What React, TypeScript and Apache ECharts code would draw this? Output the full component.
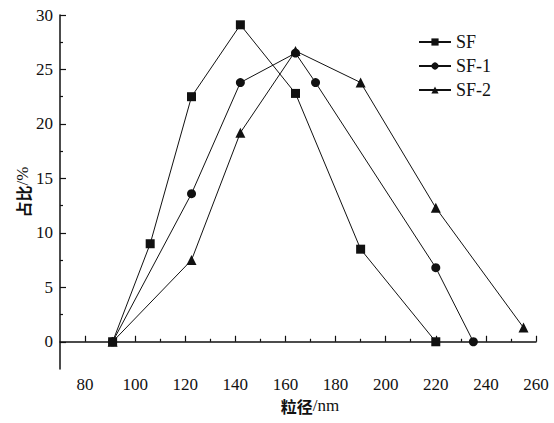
import React, { useEffect, useRef } from "react";
import * as echarts from "echarts";

const sfData: [number, number][] = [
  [91, 0], [106, 9.0], [122.5, 22.5], [142, 29.1], [164, 22.8], [190, 8.5], [220, 0],
];
const sf1Data: [number, number][] = [
  [91, 0], [122.5, 13.6], [142, 23.8], [164, 26.5], [172, 23.8], [220, 6.8], [235, 0],
];
const sf2Data: [number, number][] = [
  [91, 0], [122.5, 7.5], [142, 19.2], [164, 26.7], [190, 23.8], [220, 12.3], [255, 1.3],
];
const xMajor = [80, 100, 120, 140, 160, 180, 200, 220, 240, 260];
const xMinor = [90, 110, 130, 150, 170, 190, 210, 230, 250];
const yMajor = [0, 5, 10, 15, 20, 25, 30];
const yMinor = [2.5, 7.5, 12.5, 17.5, 22.5, 27.5];

const SERIF = "\"Liberation Serif\", \"Times New Roman\", serif";
const CJK = "\"Noto Sans CJK SC\", sans-serif";

export default function App() {
  const ref = useRef<HTMLDivElement>(null);
  useEffect(() => {
    if (!ref.current) return;
    const chart = echarts.init(ref.current, null, { renderer: "svg" });
    const lineStyle = { color: "#111", width: 1 };
    const mkSeries = (name: string, data: [number, number][], symbol: string, size: number) => ({
      name,
      type: "line",
      data,
      symbol,
      symbolSize: size,
      itemStyle: { color: "#111" },
      lineStyle,
      xAxisIndex: 0,
      yAxisIndex: 0,
    });
    const nameRich = {
      c: { fontFamily: CJK, fontSize: 16, fontWeight: "bold", color: "#111" },
      s: { fontFamily: SERIF, fontSize: 17, color: "#111" },
    };
    chart.setOption({
      animation: false,
      backgroundColor: "#fff",
      textStyle: { fontFamily: SERIF },
      grid: { left: 60, right: 18, top: 15, bottom: 54 },
      legend: {
        orient: "vertical",
        left: 413,
        top: 28,
        itemWidth: 32,
        itemHeight: 9,
        itemGap: 6,
        textStyle: { fontFamily: SERIF, fontSize: 18, color: "#111" },
        data: ["SF", "SF-1", "SF-2"],
      },
      xAxis: [
        {
          type: "value",
          min: 70,
          max: 260,
          position: "bottom",
          axisLine: { show: true, lineStyle: { color: "#111", width: 1.5 } },
          axisTick: { show: true, inside: true, length: 3, customValues: xMinor, lineStyle: { color: "#111", width: 1.2 } },
          axisLabel: { show: false },
          splitLine: { show: false },
          name: "{c|粒径}{s|/nm}",
          nameLocation: "middle",
          nameGap: 28,
          nameTextStyle: { padding: [0, 0, 0, 24], rich: nameRich },
        },
        {
          type: "value",
          min: 70,
          max: 260,
          position: "bottom",
          axisLine: { show: false },
          axisTick: { show: true, inside: true, length: 6, customValues: xMajor, lineStyle: { color: "#111", width: 1.2 } },
          axisLabel: { show: true, customValues: xMajor, margin: 7, fontFamily: SERIF, fontSize: 17, color: "#111" },
          splitLine: { show: false },
        },
      ],
      yAxis: [
        {
          type: "value",
          min: -2.5,
          max: 30,
          position: "left",
          axisLine: { show: true, lineStyle: { color: "#111", width: 1.5 } },
          axisTick: { show: true, inside: true, length: 3, customValues: yMinor, lineStyle: { color: "#111", width: 1.2 } },
          axisLabel: { show: false },
          splitLine: { show: false },
          name: "{c|占比}{s|/%}",
          nameLocation: "middle",
          nameGap: 29,
          nameTextStyle: { rich: nameRich },
        },
        {
          type: "value",
          min: -2.5,
          max: 30,
          position: "left",
          axisLine: { show: false },
          axisTick: { show: true, inside: true, length: 6, customValues: yMajor, lineStyle: { color: "#111", width: 1.2 } },
          axisLabel: { show: true, customValues: yMajor, margin: 7, fontFamily: SERIF, fontSize: 17, color: "#111" },
          splitLine: { show: false },
        },
      ],
      series: [
        mkSeries("SF", sfData, "rect", 9),
        mkSeries("SF-1", sf1Data, "circle", 9),
        mkSeries("SF-2", sf2Data, "triangle", 10),
      ],
    });
    return () => chart.dispose();
  }, []);
  return <div ref={ref} style={{ width: 554, height: 423, position: "absolute", left: 0, top: 0 }} />;
}
